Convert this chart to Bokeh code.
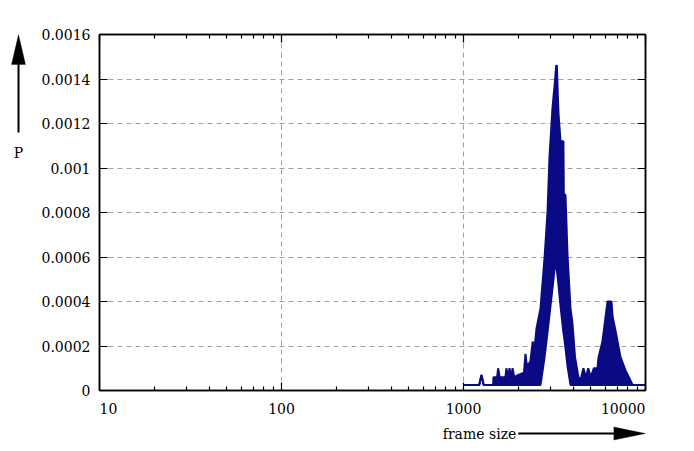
from bokeh.plotting import figure
from bokeh.layouts import column, row
from bokeh.models import (FixedTicker, LogAxis, LinearAxis, Label, Arrow, Range1d,
                          PolyAnnotation, CustomJSTickFormatter)
from bokeh.embed import file_html
from bokeh.resources import INLINE

# frame size histogram (upper and lower edge of the trace)
frame_size = [1000, 1220, 1256, 1290, 1455, 1461, 1530, 1550, 1580, 1700,
              1720, 1760, 1790, 1830, 1860, 1900, 2000, 2150, 2190, 2230,
              2330, 2400, 2450, 2520, 2650, 2790, 2894, 2968, 3083, 3180,
              3230, 3260, 3300, 3330, 3412, 3540, 3560, 3634, 3728, 3871,
              3971, 4100, 4280, 4400, 4560, 4700, 4850, 5000, 5200, 5450,
              5520, 5800, 6030, 6185, 6500, 6600, 6840, 7290, 7770, 8100,
              8500, 10400]
p_high = [2.5e-5, 2.5e-5, 7e-5, 2.5e-5, 2.5e-5, 6e-5, 6e-5, 1e-4, 6e-5, 6e-5,
          1e-4, 6e-5, 1e-4, 6e-5, 1e-4, 6e-5, 7e-5, 8e-5, 1.65e-4, 1.1e-4,
          1.3e-4, 2.2e-4, 1.8e-4, 2.8e-4, 3.7e-4, 6.0e-4, 8.0e-4, 1.05e-3, 1.27e-3, 1.39e-3,
          1.46e-3, 1.46e-3, 1.32e-3, 1.24e-3, 1.12e-3, 1.12e-3, 8.8e-4, 8.8e-4, 6.1e-4, 3.7e-4,
          3.0e-4, 1.5e-4, 6e-5, 5e-5, 1e-4, 6e-5, 1e-4, 6e-5, 1e-4, 1e-4,
          1.5e-4, 2.2e-4, 3.3e-4, 4.0e-4, 4.0e-4, 3.3e-4, 2.7e-4, 1.5e-4, 9e-5, 6e-5,
          2.5e-5, 2.5e-5]
p_low = [2.5e-5, 2.5e-5, 7e-5, 2.5e-5, 2.5e-5, 2.5e-5, 2.5e-5, 2.5e-5, 2.5e-5, 2.5e-5,
         2.5e-5, 2.5e-5, 2.5e-5, 2.5e-5, 2.5e-5, 2.5e-5, 2.5e-5, 2.5e-5, 2.5e-5, 2.5e-5,
         2.5e-5, 2.5e-5, 2.5e-5, 2.5e-5, 2.5e-5, 1.5e-4, 2.6e-4, 3.4e-4, 4.6e-4, 5.6e-4,
         5.7e-4, 5.4e-4, 5.0e-4, 4.7e-4, 3.8e-4, 2.6e-4, 2.5e-4, 1.9e-4, 1.1e-4, 2.5e-5,
         2.5e-5, 2.5e-5, 2.5e-5, 2.5e-5, 2.5e-5, 2.5e-5, 2.5e-5, 2.5e-5, 2.5e-5, 2.5e-5,
         2.5e-5, 2.5e-5, 2.5e-5, 2.5e-5, 2.5e-5, 2.5e-5, 2.5e-5, 2.5e-5, 2.5e-5, 2.5e-5,
         2.5e-5, 2.5e-5]

x_ticks = [10, 100, 1000, 10000]
x_tick_labels = ["10", "100", "1000", "10000"]
x_minor = [20, 30, 40, 50, 60, 70, 80, 90,
           200, 300, 400, 500, 600, 700, 800, 900,
           2000, 3000, 4000, 5000, 6000, 7000, 8000, 9000]
y_ticks = [0, 0.0002, 0.0004, 0.0006, 0.0008, 0.001, 0.0012, 0.0014, 0.0016]

FONT = "DejaVu Serif"
TRACE = "#0a0a84"
W_LEFT = 36    # strip holding the "P" arrow
H_MAIN = 400
H_BOTTOM = 45  # strip holding x tick labels and "frame size" arrow
TOP, BOTTOM = 34, 390  # frame edges in page pixels

xr = Range1d(10, 10000)


def blank(fig):
    fig.axis.visible = False
    fig.grid.visible = False
    fig.outline_line_color = None
    fig.background_fill_color = "white"
    fig.border_fill_color = "white"
    return fig


p = figure(width=678 - W_LEFT, height=H_MAIN, x_axis_type="log",
           x_range=xr, y_range=(0, 0.0016),
           output_backend="svg", toolbar_location=None,
           min_border_left=99 - W_LEFT, min_border_right=33,
           min_border_top=TOP, min_border_bottom=H_MAIN - BOTTOM)
p.background_fill_color = "white"
p.border_fill_color = "white"
p.outline_line_color = "black"
p.outline_line_width = 1.5

# the trace
p.varea(x=frame_size, y1=p_low, y2=p_high, fill_color=TRACE)
p.line(frame_size, p_high, line_color=TRACE, line_width=2)
p.line(frame_size, p_low, line_color=TRACE, line_width=2)

# axes, ticks pointing inwards like gnuplot
xticker = FixedTicker(ticks=x_ticks, minor_ticks=x_minor)
yticker = FixedTicker(ticks=y_ticks)

top = LogAxis()
right = LinearAxis()
p.add_layout(top, "above")
p.add_layout(right, "right")

for ax in p.xaxis:
    ax.ticker = xticker
    ax.minor_tick_in = 4
    ax.minor_tick_out = 0
for ax in p.yaxis:
    ax.ticker = yticker
    ax.minor_tick_in = 0
    ax.minor_tick_out = 0
for ax in list(p.xaxis) + [right]:
    # labels drawn in the bottom strip instead
    ax.major_label_text_font_size = "1px"
    ax.major_label_text_color = None
    ax.major_label_standoff = 0
for ax in p.axis:
    ax.major_tick_in = 8
    ax.major_tick_out = 0
    ax.axis_line_width = 1.5
    ax.major_tick_line_width = 1.2
    ax.minor_tick_line_width = 1.2

left = p.yaxis[0]
left.formatter = CustomJSTickFormatter(code="return tick.toString()")
left.major_label_text_font = FONT
left.major_label_text_font_size = "14px"
left.major_label_text_color = "black"
left.major_label_standoff = 9

p.xgrid.ticker = xticker
p.ygrid.ticker = yticker
for g in [p.xgrid, p.ygrid]:
    g.grid_line_color = "#a0a0a0"
    g.grid_line_dash = "5 4"
    g.grid_line_width = 1

# left strip: vertical axis title with its arrow (y in page pixels, top down)
ls = blank(figure(width=W_LEFT, height=H_MAIN, x_range=(0, W_LEFT), y_range=(BOTTOM, TOP),
                  output_backend="svg", toolbar_location=None,
                  min_border_left=0, min_border_right=0,
                  min_border_top=TOP, min_border_bottom=H_MAIN - BOTTOM))
ls.add_layout(Arrow(x_start=18, y_start=132, x_end=18, y_end=62, end=None,
                    line_width=2, line_color="black"))
ls.add_layout(PolyAnnotation(xs=[11, 25, 18], ys=[64, 64, 34],
                             fill_color="black", fill_alpha=1, line_color="black"))
ls.add_layout(Label(x=18, y=152, text="P", text_align="center", text_baseline="middle",
                    text_font=FONT, text_font_size="14px", text_color="black"))

# bottom strip: x tick labels and the horizontal axis title, same x scale as the chart
bs = blank(figure(width=678, height=H_BOTTOM, x_axis_type="log", x_range=xr,
                  y_range=(H_MAIN + H_BOTTOM, H_MAIN), output_backend="svg",
                  toolbar_location=None, min_border_left=99, min_border_right=33,
                  min_border_top=0, min_border_bottom=0))
for t, txt, align in zip(x_ticks, x_tick_labels, ["left", "center", "center", "right"]):
    bs.add_layout(Label(x=t, y=408, text=txt, text_align=align, text_baseline="middle",
                        text_font=FONT, text_font_size="14px", text_color="black"))

bs.add_layout(Label(x=2000, y=433, x_offset=-2, text="frame size",
                    text_align="right", text_baseline="middle",
                    text_font=FONT, text_font_size="14px", text_color="black"))
bs.add_layout(Arrow(x_start=2000, y_start=433, x_end=7000, y_end=433, end=None,
                    line_width=2, line_color="black"))
bs.add_layout(PolyAnnotation(xs=[6700, 6700, 10000], ys=[426.5, 439.5, 433],
                             fill_color="black", fill_alpha=1, line_color="black"))

layout = column(row(ls, p, spacing=0), bs, spacing=0)

open("out.html", "w").write(file_html(layout, INLINE))
